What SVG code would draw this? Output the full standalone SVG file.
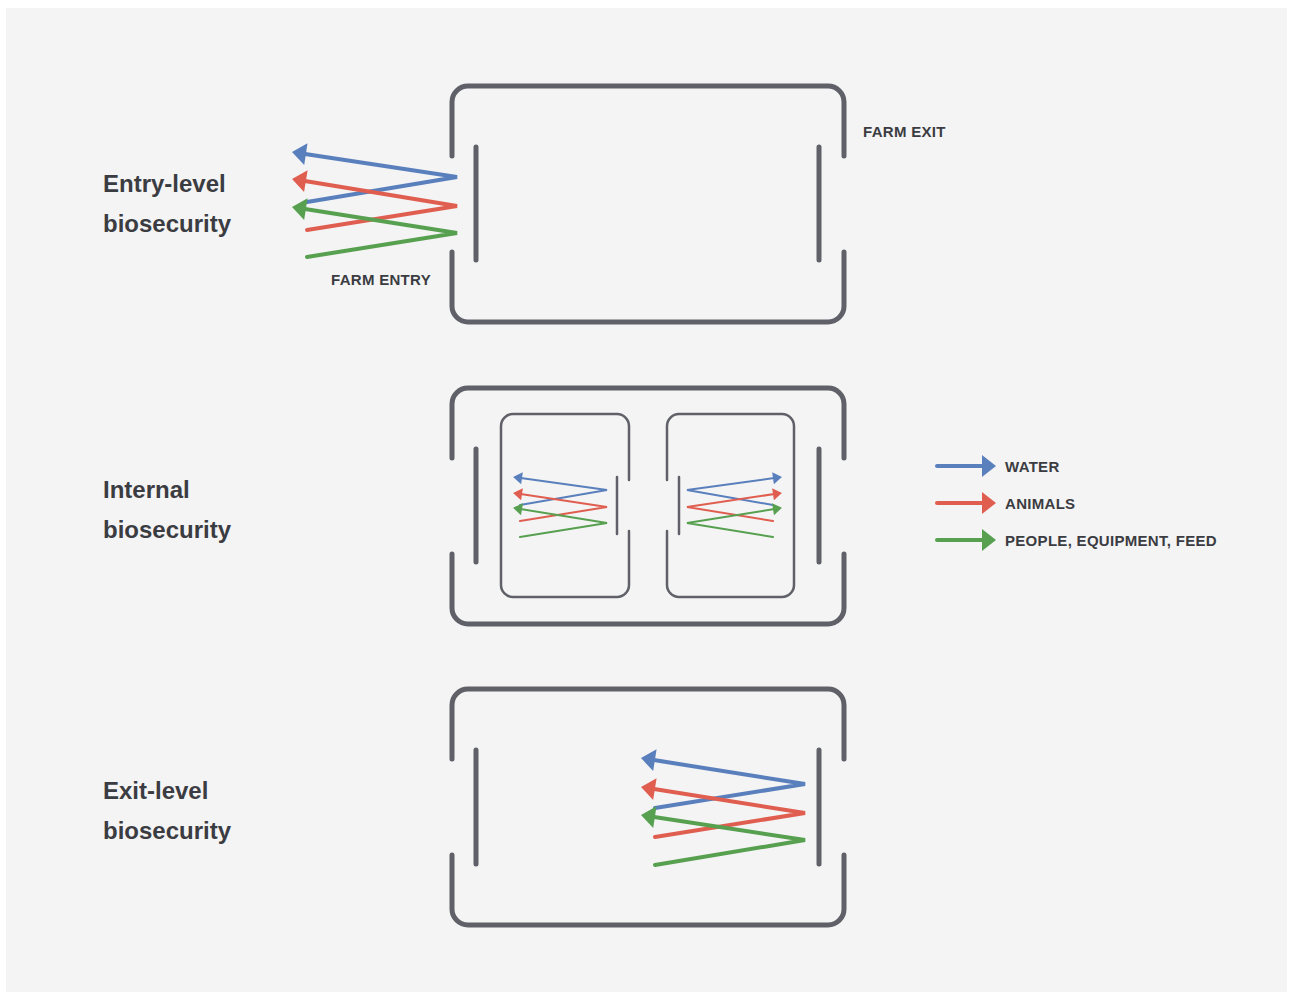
<svg xmlns="http://www.w3.org/2000/svg" width="1292" height="994" viewBox="0 0 1292 994">
<defs>
<style>
.frame{fill:none;stroke:#5f6068;stroke-width:5;stroke-linecap:round;stroke-linejoin:round}
.sub{fill:none;stroke:#5f6068;stroke-width:2.5;stroke-linecap:round;stroke-linejoin:round}
.big{fill:none;stroke-width:4;stroke-linecap:round;stroke-linejoin:miter}
.small{fill:none;stroke-width:2;stroke-linecap:round;stroke-linejoin:miter}
.b{stroke:#5a7fbd}.r{stroke:#e05e50}.g{stroke:#57a050}
.title{font-family:"Liberation Sans",Arial,sans-serif;font-weight:bold;font-size:24px;fill:#3b3c42}
.lbl{font-family:"Liberation Sans",Arial,sans-serif;font-weight:bold;font-size:15px;letter-spacing:0.3px;fill:#3b3c42}
</style>
<marker id="hb" markerUnits="userSpaceOnUse" markerWidth="16" markerHeight="24" viewBox="0 -12 14 24" refX="4" refY="0" orient="auto"><path d="M0,-11 L14,0 L0,11 z" fill="#5a7fbd"/></marker>
<marker id="hr" markerUnits="userSpaceOnUse" markerWidth="16" markerHeight="24" viewBox="0 -12 14 24" refX="4" refY="0" orient="auto"><path d="M0,-11 L14,0 L0,11 z" fill="#e05e50"/></marker>
<marker id="hg" markerUnits="userSpaceOnUse" markerWidth="16" markerHeight="24" viewBox="0 -12 14 24" refX="4" refY="0" orient="auto"><path d="M0,-11 L14,0 L0,11 z" fill="#57a050"/></marker>
<marker id="sb" markerUnits="userSpaceOnUse" markerWidth="10" markerHeight="14" viewBox="0 -7 9 14" refX="3" refY="0" orient="auto"><path d="M0,-6 L9,0 L0,6 z" fill="#5a7fbd"/></marker>
<marker id="sr" markerUnits="userSpaceOnUse" markerWidth="10" markerHeight="14" viewBox="0 -7 9 14" refX="3" refY="0" orient="auto"><path d="M0,-6 L9,0 L0,6 z" fill="#e05e50"/></marker>
<marker id="sg" markerUnits="userSpaceOnUse" markerWidth="10" markerHeight="14" viewBox="0 -7 9 14" refX="3" refY="0" orient="auto"><path d="M0,-6 L9,0 L0,6 z" fill="#57a050"/></marker>
</defs>
<rect x="0" y="0" width="1292" height="994" fill="#ffffff"/>
<rect x="6" y="8" width="1281" height="984" fill="#f4f4f4"/>

<g id="title-entry"><text class="title" x="103" y="192">Entry-level</text><text class="title" x="103" y="232">biosecurity</text></g>
<g id="title-internal"><text class="title" x="103" y="498">Internal</text><text class="title" x="103" y="538">biosecurity</text></g>
<g id="title-exit"><text class="title" x="103" y="799">Exit-level</text><text class="title" x="103" y="839">biosecurity</text></g>

<g id="farm-entry-level">
<path class="frame" d="M452,156 V102 A16,16 0 0 1 468,86 H828 A16,16 0 0 1 844,102 V156"/>
<path class="frame" d="M452,252 V306 A16,16 0 0 0 468,322 H828 A16,16 0 0 0 844,306 V252"/>
<line class="frame" x1="476" y1="147" x2="476" y2="260"/>
<line class="frame" x1="819" y1="147" x2="819" y2="260"/>
<text class="lbl" x="331" y="285">FARM ENTRY</text>
<text class="lbl" x="863" y="137">FARM EXIT</text>
</g>

<g id="farm-internal">
<path class="frame" d="M452,458 V404 A16,16 0 0 1 468,388 H828 A16,16 0 0 1 844,404 V458"/>
<path class="frame" d="M452,554 V608 A16,16 0 0 0 468,624 H828 A16,16 0 0 0 844,608 V554"/>
<line class="frame" x1="476" y1="449" x2="476" y2="562"/>
<line class="frame" x1="819" y1="449" x2="819" y2="562"/>
</g>
<g id="unit-left">
<path class="sub" d="M629,480 V426 A12,12 0 0 0 617,414 H513 A12,12 0 0 0 501,426 V585 A12,12 0 0 0 513,597 H617 A12,12 0 0 0 629,585 V531"/>
<line class="sub" x1="617" y1="477" x2="617" y2="534"/>
</g>
<g id="unit-right">
<path class="sub" d="M667,480 V426 A12,12 0 0 1 679,414 H782 A12,12 0 0 1 794,426 V585 A12,12 0 0 1 782,597 H679 A12,12 0 0 1 667,585 V531"/>
<line class="sub" x1="679" y1="477" x2="679" y2="534"/>
</g>

<g id="farm-exit-level">
<path class="frame" d="M452,759 V705 A16,16 0 0 1 468,689 H828 A16,16 0 0 1 844,705 V759"/>
<path class="frame" d="M452,855 V909 A16,16 0 0 0 468,925 H828 A16,16 0 0 0 844,909 V855"/>
<line class="frame" x1="476" y1="750" x2="476" y2="864"/>
<line class="frame" x1="819" y1="750" x2="819" y2="864"/>
</g>

<g id="legend">
<line class="big b" x1="937" y1="466" x2="986" y2="466" marker-end="url(#hb)"/>
<line class="big r" x1="937" y1="503" x2="986" y2="503" marker-end="url(#hr)"/>
<line class="big g" x1="937" y1="540" x2="986" y2="540" marker-end="url(#hg)"/>
<text class="lbl" x="1005" y="472">WATER</text>
<text class="lbl" x="1005" y="509">ANIMALS</text>
<text class="lbl" x="1005" y="546">PEOPLE, EQUIPMENT, FEED</text>
</g>

<g id="connectors">
<polyline class="big b" points="307,202 457,177 301.9,153.5" marker-end="url(#hb)"/>
<polyline class="big r" points="307,230 457,206 301.9,180.5" marker-end="url(#hr)"/>
<polyline class="big g" points="307,257 457,233 301.9,208.5" marker-end="url(#hg)"/>

<polyline class="small b" points="520,505 607,490 519,477.8" marker-end="url(#sb)"/>
<polyline class="small r" points="520,521 607,507 519,493.8" marker-end="url(#sr)"/>
<polyline class="small g" points="520,537 607,523 519,508.8" marker-end="url(#sg)"/>

<polyline class="small b" points="773,505 687,490 776,477.8" marker-end="url(#sb)"/>
<polyline class="small r" points="773,521 687,507 776,493.8" marker-end="url(#sr)"/>
<polyline class="small g" points="773,537 687,523 776,508.8" marker-end="url(#sg)"/>

<polyline class="big b" points="655,808 805,784 650.9,759.6" marker-end="url(#hb)"/>
<polyline class="big r" points="655,837 805,813 650.9,788.6" marker-end="url(#hr)"/>
<polyline class="big g" points="655,865 805,840 650.9,816.6" marker-end="url(#hg)"/>
</g>
</svg>
